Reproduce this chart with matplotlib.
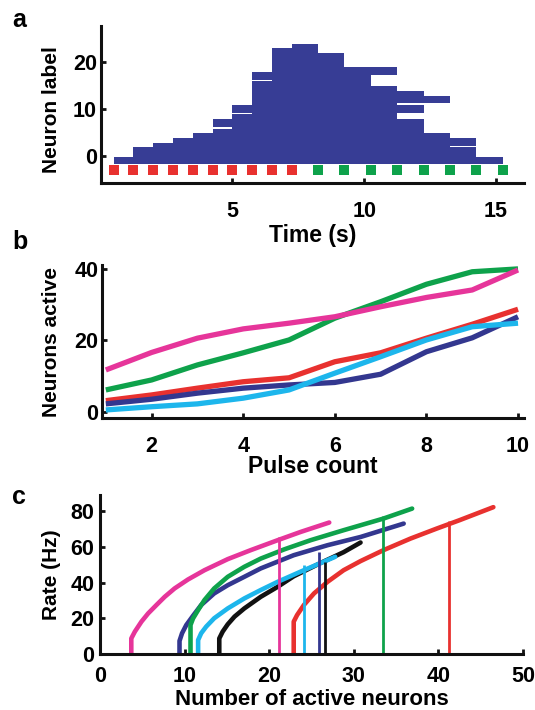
import matplotlib
matplotlib.use("Agg")
import matplotlib.pyplot as plt

plt.rcParams['font.family'] = ['Liberation Sans', 'DejaVu Sans']
plt.rcParams['font.weight'] = 'bold'

# ---------------- data: panel a ----------------
red_pulses = [0.5, 1.25, 2.0, 2.75, 3.5, 4.25, 5.0, 5.75, 6.5, 7.25]
green_pulses = [8.25, 9.25, 10.25, 11.25, 12.25, 13.25, 14.25, 15.25]
neuron_labels = [-1, 0, 1, 2, 3, 4, 5, 6, 7, 8, 9, 10, 11, 12, 13, 14, 15,
                 16, 17, 18, 19, 20, 21, 22, 23]
onset_pulse = [0, 1, 1, 2, 3, 4, 5, 6, 5, 6, 7, 6, 7, 7, 7, 7, 7,
               8, 7, 8, 8, 8, 8, 8, 9]
offset_pulse = [7, 6, 6, 5, 6, 5, 4, 4, 4, 3, 3, 4, 3, 5, 4, 3, 2,
                2, 2, 3, 1, 1, 1, 0, 0]

# ---------------- data: panel b ----------------
pulse_count = [1, 2, 3, 4, 5, 6, 7, 8, 9, 10]
b_green = [6.1, 8.9, 13.1, 16.5, 20.1, 26.2, 30.8, 35.7, 39.2, 40.0]
b_red = [3.1, 4.7, 6.6, 8.4, 9.5, 14.0, 16.5, 20.6, 24.5, 28.7]
b_blue = [2.2, 3.5, 5.2, 6.6, 7.5, 8.2, 10.5, 16.8, 20.7, 26.6]
b_cyan = [0.5, 1.4, 2.2, 3.8, 6.1, 10.8, 15.4, 20.1, 23.8, 24.8]
b_magenta = [11.7, 16.6, 20.6, 23.2, 24.8, 26.6, 29.4, 32.0, 34.1, 39.7]

# ---------------- data: panel c ----------------
c_magenta_n = [3.7, 3.7, 4.12, 4.9, 5.69, 6.67, 7.65, 8.82, 10.4, 12.35,
               15.1, 17.8, 21.0, 23.7, 27.1]
c_magenta_r = [0, 8.7, 12.5, 18.1, 22.7, 27.4, 32.0, 36.7, 41.7, 46.9,
               53.1, 58.1, 63.7, 68.3, 73.6]
c_green_n = [10.7, 10.7, 11.0, 11.6, 12.35, 13.5, 15.1, 17.06, 19.0, 21.8,
             24.9, 28.8, 33.5, 36.9]
c_green_r = [0, 16.2, 19.9, 24.6, 30.2, 36.7, 43.2, 48.8, 53.4, 58.6,
             63.7, 69.3, 75.8, 81.4]
c_blue_n = [9.4, 9.4, 9.7, 10.2, 11.0, 11.96, 13.5, 15.1, 17.06, 19.0,
            22.9, 26.9, 30.8, 35.9]
c_blue_r = [0, 7.3, 11.6, 16.2, 21.4, 27.4, 33.9, 38.5, 43.2, 47.9,
            55.3, 60.9, 65.5, 73.0]
c_cyan_n = [11.6, 11.6, 11.96, 12.55, 13.5, 15.1, 17.06, 19.0, 21.0,
            24.1, 27.8]
c_cyan_r = [0, 7.8, 11.6, 15.3, 20.0, 25.5, 31.1, 35.8, 40.4, 46.9, 54.4]
c_black_n = [14.1, 14.1, 14.5, 15.1, 15.9, 17.06, 19.0, 21.0, 22.9, 26.1,
             28.8, 30.8]
c_black_r = [0, 8.7, 12.5, 16.6, 20.9, 25.5, 32.0, 37.6, 43.5, 51.0,
             57.0, 62.4]
c_red_n = [22.9, 22.9, 23.3, 24.1, 25.3, 26.9, 28.8, 30.8, 33.5, 36.7,
           39.8, 42.5, 46.5]
c_red_r = [0, 18.1, 21.8, 27.4, 33.9, 40.4, 46.9, 52.0, 58.1, 64.6,
           70.2, 74.9, 82.2]
# vertical drop lines (position, height) per colour
drop_names = ['magenta', 'green', 'blue', 'cyan', 'black', 'red']
drop_n = [21.2, 33.5, 25.9, 24.1, 26.6, 41.3]
drop_r = [65.3, 77.0, 57.2, 50.0, 51.4, 74.5]

# ---------------- colours ----------------
C = {
    'raster': '#373d95',
    'red': '#e8312f',
    'green': '#0ea24b',
    'blue': '#33378f',
    'cyan': '#1db6ec',
    'magenta': '#e6359a',
    'black': '#111111',
}

fig = plt.figure(figsize=(5.35, 7.10), dpi=100)

TICK_FS = 15.5
XLAB_FS = 16.5
YLAB_FS = 15


def style(ax, xpad, ypad):
    for s in ['top', 'right']:
        ax.spines[s].set_visible(False)
    for s in ['left', 'bottom']:
        ax.spines[s].set_linewidth(2.2)
        ax.spines[s].set_color('#111111')
    ax.tick_params(direction='in', length=3.5, width=2, color='#111111',
                   labelsize=TICK_FS)
    ax.tick_params(axis='x', pad=xpad)
    ax.tick_params(axis='y', pad=ypad)
    for lab in ax.get_xticklabels() + ax.get_yticklabels():
        lab.set_fontweight('bold')


# ---------------- panel a ----------------
axa = fig.add_axes([0.1879, 0.7418, 0.7915, 0.2220])
for lab, on, off in zip(neuron_labels, onset_pulse, offset_pulse):
    t0 = red_pulses[on]
    t1 = green_pulses[off]
    axa.barh(lab, t1 - t0, left=t0, height=1.6, color=C['raster'],
             linewidth=0)
marker_y = -3
axa.plot(red_pulses, [marker_y] * len(red_pulses), 's', color=C['red'],
         ms=7.3, mew=0)
axa.plot(green_pulses, [marker_y] * len(green_pulses), 's', color=C['green'],
         ms=7.3, mew=0)
axa.set_xlim(0, 16.06)
axa.set_ylim(-5.8, 27.6)
axa.set_xticks([5, 10, 15])
axa.set_yticks([0, 10, 20])
style(axa, 13, 2.5)
axa.set_xlabel('Time (s)', fontsize=XLAB_FS, fontweight='bold', labelpad=1)
axa.set_ylabel('Neuron label', fontsize=YLAB_FS, fontweight='bold')
axa.yaxis.set_label_coords(-0.093, 0.465)

# ---------------- panel b ----------------
axb = fig.add_axes([0.1901, 0.4108, 0.7893, 0.2160])
axb.plot(pulse_count, b_green, color=C['green'], lw=3.8, solid_capstyle='butt')
axb.plot(pulse_count, b_red, color=C['red'], lw=3.8, solid_capstyle='butt')
axb.plot(pulse_count, b_blue, color=C['blue'], lw=3.8, solid_capstyle='butt')
axb.plot(pulse_count, b_cyan, color=C['cyan'], lw=3.8, solid_capstyle='butt')
axb.plot(pulse_count, b_magenta, color=C['magenta'], lw=3.8,
         solid_capstyle='butt')
axb.set_xlim(0.91, 10.13)
axb.set_ylim(-1.85, 41.1)
axb.set_xticks([2, 4, 6, 8, 10])
axb.set_yticks([0, 20, 40])
style(axb, 12.5, 2.5)
axb.set_xlabel('Pulse count', fontsize=XLAB_FS, fontweight='bold',
               labelpad=-1)
axb.set_ylabel('Neurons active', fontsize=YLAB_FS, fontweight='bold')
axb.yaxis.set_label_coords(-0.096, 0.5)

# ---------------- panel c ----------------
axc = fig.add_axes([0.1869, 0.0789, 0.7906, 0.2239])
curves = [
    ('blue', c_blue_n, c_blue_r),
    ('black', c_black_n, c_black_r),
    ('cyan', c_cyan_n, c_cyan_r),
    ('green', c_green_n, c_green_r),
    ('magenta', c_magenta_n, c_magenta_r),
    ('red', c_red_n, c_red_r),
]
for name, n, r in curves:
    axc.plot(n, r, color=C[name], lw=3.3, solid_capstyle='round',
             solid_joinstyle='round')
for name, n, r in zip(drop_names, drop_n, drop_r):
    axc.vlines(n, 0, r, color=C[name], lw=2.0)
axc.set_xlim(0, 50)
axc.set_ylim(0, 89)
axc.set_xticks([0, 10, 20, 30, 40, 50])
axc.set_yticks([0, 20, 40, 60, 80])
style(axc, 9, 4)
axc.set_xlabel('Number of active neurons', fontsize=16, fontweight='bold')
axc.xaxis.label.set_va('baseline')
axc.xaxis.set_label_coords(0.5, -0.321)
axc.set_ylabel('Rate (Hz)', fontsize=YLAB_FS, fontweight='bold')
axc.yaxis.set_label_coords(-0.092, 0.5)

# ---------------- panel letters ----------------
fig.text(0.0224, 1 - 27.4 / 710, 'a', fontsize=18, fontweight='bold',
         va='baseline', ha='left')
fig.text(0.0224, 1 - 248.6 / 710, 'b', fontsize=18, fontweight='bold',
         va='baseline', ha='left')
fig.text(0.0224, 1 - 504 / 710, 'c', fontsize=18, fontweight='bold',
         va='baseline', ha='left')

fig.savefig('out.png', dpi=100)
